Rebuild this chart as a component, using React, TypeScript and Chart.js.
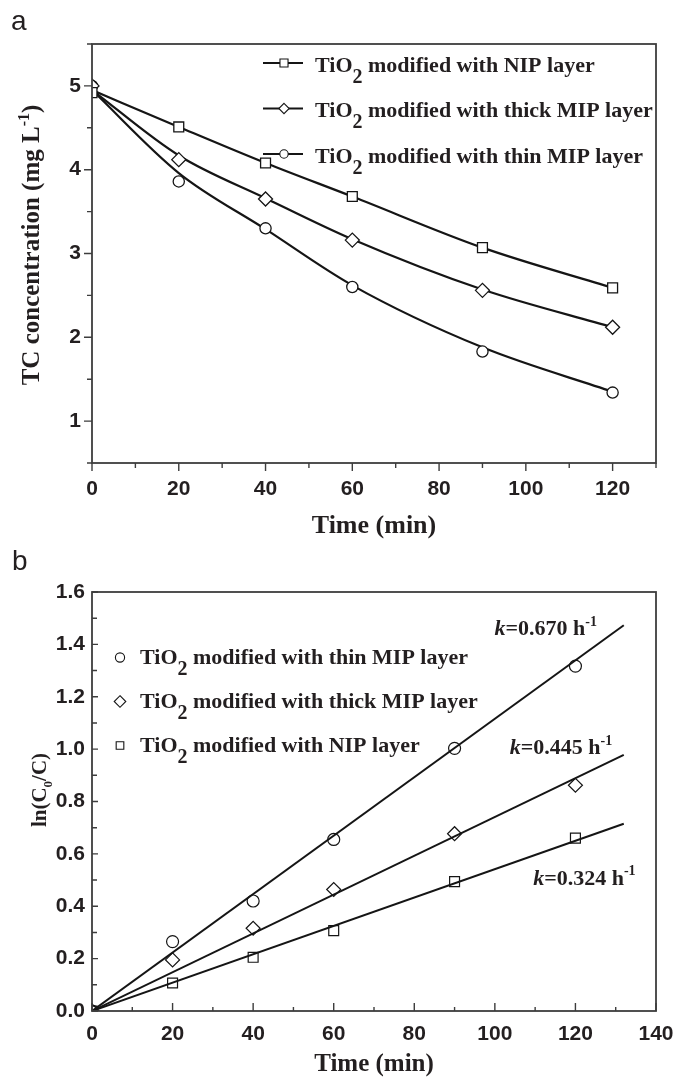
import React, { useEffect, useRef } from 'react';
import { Chart, registerables } from 'chart.js';
Chart.register(...registerables);

// ---------- Data: panel a (TC concentration, mg/L) ----------
const timeA = [0, 20, 40, 60, 90, 120];
const nipA = [4.92, 4.51, 4.08, 3.68, 3.07, 2.59];
const thickA = [5.0, 4.12, 3.65, 3.16, 2.56, 2.12];
const thinA = [5.0, 3.86, 3.30, 2.60, 1.83, 1.34];
// smooth curves as drawn in the figure
const nipCurveA = [4.95, 4.51, 4.08, 3.68, 3.07, 2.59];
const thickCurveA = [4.95, 4.17, 3.66, 3.17, 2.57, 2.12];
const thinCurveA = [4.95, 3.96, 3.29, 2.62, 1.88, 1.35];
const xTicksA = [0, 20, 40, 60, 80, 100, 120];
const xMinorA = [10, 30, 50, 70, 90, 110, 130];
const yTicksA = [1, 2, 3, 4, 5];
const yMinorA = [0.5, 1.5, 2.5, 3.5, 4.5, 5.5];
const legendNamesA = ['NIP layer', 'thick MIP layer', 'thin MIP layer'];

// ---------- Data: panel b (ln(C0/C)) ----------
const timeB = [0, 20, 40, 60, 90, 120];
const thinB = [0, 0.265, 0.42, 0.655, 1.003, 1.317];
const thickB = [0, 0.195, 0.316, 0.464, 0.677, 0.862];
const nipB = [0, 0.107, 0.205, 0.307, 0.494, 0.66];
const fitTimeB = [0, 132];
const thinFitB = [0, 1.473];
const thickFitB = [0, 0.978];
const nipFitB = [0, 0.715];
const xTicksB = [0, 20, 40, 60, 80, 100, 120, 140];
const xMinorB = [10, 30, 50, 70, 90, 110, 130];
const yTicksB = [0, 0.2, 0.4, 0.6, 0.8, 1.0, 1.2, 1.4, 1.6];
const yMinorB = [0.1, 0.3, 0.5, 0.7, 0.9, 1.1, 1.3, 1.5];
const legendNamesB = ['thin MIP layer', 'thick MIP layer', 'NIP layer'];
const kValuesB = ['0.670', '0.445', '0.324'];
const kAnchorTimeB = [99.9, 103.7, 109.5];
const kAnchorValueB = [1.434, 0.98, 0.483];

// ---------- Styles ----------
const SERIF = '"Liberation Serif", "Times New Roman", serif';
const SANS = '"Liberation Sans", Arial, sans-serif';
const INK = '#231f20';
const FRAME = '#3d3d3d';
const LINE = '#151515';

type Part = { t: string; sub?: boolean; sup?: boolean; it?: boolean; small?: boolean };

function partFont(p: Part, size: number) {
  if (p.sub) return `bold ${Math.round(size * (p.small ? 0.62 : 0.9))}px ${SERIF}`;
  if (p.sup) return `bold ${Math.round(size * 0.62)}px ${SERIF}`;
  return `${p.it ? 'italic ' : ''}bold ${size}px ${SERIF}`;
}
function partShift(p: Part, size: number) {
  if (p.sub) return size * (p.small ? 0.28 : 0.5);
  if (p.sup) return -size * 0.42;
  return 0;
}
function measureRich(ctx: CanvasRenderingContext2D, parts: Part[], size: number) {
  let w = 0;
  for (const p of parts) {
    ctx.font = partFont(p, size);
    w += ctx.measureText(p.t).width;
  }
  return w;
}
function drawRich(ctx: CanvasRenderingContext2D, parts: Part[], x: number, y: number, size: number, align: 'left' | 'center') {
  const w = measureRich(ctx, parts, size);
  let cx = align === 'center' ? x - w / 2 : x;
  ctx.textAlign = 'left';
  ctx.textBaseline = 'alphabetic';
  ctx.fillStyle = INK;
  for (const p of parts) {
    ctx.font = partFont(p, size);
    ctx.fillText(p.t, cx, y + partShift(p, size));
    cx += ctx.measureText(p.t).width;
  }
}
function drawMarker(ctx: CanvasRenderingContext2D, style: string, x: number, y: number, r: number, fill: string | null) {
  ctx.beginPath();
  if (style === 'circle') ctx.arc(x, y, r, 0, Math.PI * 2);
  else if (style === 'rect') {
    const s = r * Math.SQRT1_2;
    ctx.rect(x - s, y - s, 2 * s, 2 * s);
  } else {
    ctx.moveTo(x, y - r);
    ctx.lineTo(x + r, y);
    ctx.lineTo(x, y + r);
    ctx.lineTo(x - r, y);
    ctx.closePath();
  }
  if (fill) {
    ctx.fillStyle = fill;
    ctx.fill();
  }
  ctx.stroke();
}

const tiO2 = (rest: string): Part[] => [{ t: 'TiO' }, { t: '2', sub: true }, { t: ' modified with ' + rest }];

function pts(xs: number[], ys: number[]) {
  return xs.map((x, i) => ({ x, y: ys[i] }));
}

const tickFont = { family: SANS, size: 21, weight: 'bold' as const };

// ---------- Panel a ----------
function configA(): any {
  const styles = ['rect', 'rectRot', 'circle'];
  const plugin = {
    id: 'panelA',
    afterDraw(chart: any) {
      const { ctx, chartArea: ca } = chart;
      const x = chart.scales.x;
      const y = chart.scales.y;
      ctx.save();
      ctx.strokeStyle = FRAME;
      ctx.lineWidth = 1.8;
      ctx.strokeRect(ca.left, ca.top, ca.right - ca.left, ca.bottom - ca.top);
      ctx.lineWidth = 1.4;
      ctx.beginPath();
      for (const v of xTicksA) {
        const px = x.getPixelForValue(v);
        ctx.moveTo(px, ca.bottom);
        ctx.lineTo(px, ca.bottom + 8);
      }
      for (const v of xMinorA) {
        const px = x.getPixelForValue(v);
        ctx.moveTo(px, ca.bottom);
        ctx.lineTo(px, ca.bottom + 5);
      }
      for (const v of yTicksA) {
        const py = y.getPixelForValue(v);
        ctx.moveTo(ca.left, py);
        ctx.lineTo(ca.left - 8, py);
      }
      for (const v of yMinorA) {
        const py = y.getPixelForValue(v);
        ctx.moveTo(ca.left, py);
        ctx.lineTo(ca.left - 5, py);
      }
      ctx.stroke();

      // legend
      const legendSizes = [5.7, 5.2, 4.2];
      legendNamesA.forEach((name, i) => {
        const my = 63 + i * 45.5;
        ctx.strokeStyle = LINE;
        ctx.lineWidth = 2;
        ctx.beginPath();
        ctx.moveTo(263, my);
        ctx.lineTo(303, my);
        ctx.stroke();
        ctx.lineWidth = 1.1;
        drawMarker(ctx, styles[i], 284, my, legendSizes[i], '#fff');
        drawRich(ctx, tiO2(name), 315, my + 8.5, 22, 'left');
      });

      // axis titles
      drawRich(ctx, [{ t: 'Time (min)' }], (ca.left + ca.right) / 2, 533, 26, 'center');
      ctx.save();
      ctx.translate(39, 245);
      ctx.rotate(-Math.PI / 2);
      drawRich(ctx, [{ t: 'TC concentration (mg L' }, { t: '-1', sup: true }, { t: ')' }], 0, 0, 25, 'center');
      ctx.restore();

      // panel letter
      ctx.fillStyle = INK;
      ctx.font = `28px ${SANS}`;
      ctx.textAlign = 'left';
      ctx.textBaseline = 'alphabetic';
      ctx.fillText('a', 11, 30);
      ctx.restore();
    },
  };

  const markerDs = (data: number[], style: string, r: number) => ({
    data: pts(timeA, data),
    showLine: false,
    pointStyle: style,
    pointRadius: r,
    pointBorderWidth: 1.3,
    pointBorderColor: LINE,
    pointBackgroundColor: '#fff',
  });
  const curveDs = (data: number[]) => ({
    data: pts(timeA, data),
    showLine: true,
    borderColor: LINE,
    borderWidth: 2.2,
    pointRadius: 0,
    tension: 0.4,
    cubicInterpolationMode: 'monotone',
    fill: false,
  });

  return {
    type: 'scatter',
    data: {
      datasets: [
        markerDs(nipA, 'rect', 7),
        markerDs(thickA, 'rectRot', 7),
        markerDs(thinA, 'circle', 5.6),
        curveDs(nipCurveA),
        curveDs(thickCurveA),
        curveDs(thinCurveA),
      ],
    },
    options: {
      responsive: false,
      animation: false,
      devicePixelRatio: 1,
      events: [],
      layout: { padding: { left: 0, right: 19, top: 44, bottom: 0 } },
      plugins: { legend: { display: false }, tooltip: { enabled: false }, title: { display: false } },
      scales: {
        x: {
          type: 'linear',
          min: 0,
          max: 130,
          afterBuildTicks: (s: any) => {
            s.ticks = xTicksA.map((v) => ({ value: v }));
          },
          afterFit: (s: any) => {
            s.height = 77;
            s.paddingLeft = 0;
            s.paddingRight = 0;
          },
          grid: { display: false, drawTicks: false },
          border: { display: false },
          ticks: { font: tickFont, color: INK, padding: 14, maxRotation: 0, autoSkip: false, callback: (v: any) => String(v) },
        },
        y: {
          type: 'linear',
          min: 0.5,
          max: 5.5,
          afterBuildTicks: (s: any) => {
            s.ticks = yTicksA.map((v) => ({ value: v }));
          },
          afterFit: (s: any) => {
            s.width = 92;
            s.paddingTop = 0;
            s.paddingBottom = 0;
          },
          grid: { display: false, drawTicks: false },
          border: { display: false },
          ticks: { font: tickFont, color: INK, padding: 11, autoSkip: false, callback: (v: any) => String(v) },
        },
      },
    },
    plugins: [plugin],
  };
}

// ---------- Panel b ----------
function configB(): any {
  const styles = ['circle', 'rectRot', 'rect'];
  const plugin = {
    id: 'panelB',
    afterDraw(chart: any) {
      const { ctx, chartArea: ca } = chart;
      const x = chart.scales.x;
      const y = chart.scales.y;
      ctx.save();
      ctx.strokeStyle = FRAME;
      ctx.lineWidth = 1.8;
      ctx.strokeRect(ca.left, ca.top, ca.right - ca.left, ca.bottom - ca.top);
      ctx.lineWidth = 1.4;
      ctx.beginPath();
      for (const v of xTicksB) {
        const px = x.getPixelForValue(v);
        ctx.moveTo(px, ca.bottom);
        ctx.lineTo(px, ca.bottom - 8);
      }
      for (const v of xMinorB) {
        const px = x.getPixelForValue(v);
        ctx.moveTo(px, ca.bottom);
        ctx.lineTo(px, ca.bottom - 4);
      }
      for (const v of yTicksB) {
        const py = y.getPixelForValue(v);
        ctx.moveTo(ca.left, py);
        ctx.lineTo(ca.left + 6, py);
      }
      for (const v of yMinorB) {
        const py = y.getPixelForValue(v);
        ctx.moveTo(ca.left, py);
        ctx.lineTo(ca.left + 5, py);
      }
      ctx.stroke();

      // legend
      const legendSizes = [4.6, 5.8, 5.4];
      legendNamesB.forEach((name, i) => {
        const my = 117.5 + i * 44;
        ctx.strokeStyle = LINE;
        ctx.lineWidth = 1.1;
        drawMarker(ctx, styles[i], 120, my, legendSizes[i], null);
        drawRich(ctx, tiO2(name), 140, my + 6.5, 22, 'left');
      });

      // rate-constant labels
      kValuesB.forEach((k, i) => {
        const px = x.getPixelForValue(kAnchorTimeB[i]);
        const py = y.getPixelForValue(kAnchorValueB[i]);
        drawRich(ctx, [{ t: 'k', it: true }, { t: '=' + k + ' h' }, { t: '-1', sup: true }], px, py, 22, 'left');
      });

      // axis titles
      drawRich(ctx, [{ t: 'Time (min)' }], (ca.left + ca.right) / 2, 531, 25, 'center');
      ctx.save();
      ctx.translate(46, 250);
      ctx.rotate(-Math.PI / 2);
      drawRich(ctx, [{ t: 'ln(C' }, { t: '0', sub: true, small: true }, { t: '/C)' }], 0, 0, 21, 'center');
      ctx.restore();

      ctx.fillStyle = INK;
      ctx.font = `28px ${SANS}`;
      ctx.textAlign = 'left';
      ctx.textBaseline = 'alphabetic';
      ctx.fillText('b', 12, 30);
      ctx.restore();
    },
  };

  const markerDs = (data: number[], style: string, r: number) => ({
    data: pts(timeB, data),
    showLine: false,
    pointStyle: style,
    pointRadius: r,
    pointBorderWidth: 1.2,
    pointBorderColor: LINE,
    pointBackgroundColor: 'rgba(0,0,0,0)',
    clip: 0,
  });
  const fitDs = (data: number[]) => ({
    data: pts(fitTimeB, data),
    showLine: true,
    borderColor: LINE,
    borderWidth: 2,
    pointRadius: 0,
    tension: 0,
    fill: false,
    clip: 0,
  });

  return {
    type: 'scatter',
    data: {
      datasets: [
        markerDs(thinB, 'circle', 6),
        markerDs(thickB, 'rectRot', 7),
        markerDs(nipB, 'rect', 7),
        fitDs(thinFitB),
        fitDs(thickFitB),
        fitDs(nipFitB),
      ],
    },
    options: {
      responsive: false,
      animation: false,
      devicePixelRatio: 1,
      events: [],
      layout: { padding: { left: 0, right: 19, top: 52, bottom: 0 } },
      plugins: { legend: { display: false }, tooltip: { enabled: false }, title: { display: false } },
      scales: {
        x: {
          type: 'linear',
          min: 0,
          max: 140,
          afterBuildTicks: (s: any) => {
            s.ticks = xTicksB.map((v) => ({ value: v }));
          },
          afterFit: (s: any) => {
            s.height = 67;
            s.paddingLeft = 0;
            s.paddingRight = 0;
          },
          grid: { display: false, drawTicks: false },
          border: { display: false },
          ticks: { font: tickFont, color: INK, padding: 11, maxRotation: 0, autoSkip: false, callback: (v: any) => String(v) },
        },
        y: {
          type: 'linear',
          min: 0,
          max: 1.6,
          afterBuildTicks: (s: any) => {
            s.ticks = yTicksB.map((v) => ({ value: v }));
          },
          afterFit: (s: any) => {
            s.width = 92;
            s.paddingTop = 0;
            s.paddingBottom = 0;
          },
          grid: { display: false, drawTicks: false },
          border: { display: false },
          ticks: { font: tickFont, color: INK, padding: 7, autoSkip: false, callback: (v: any) => Number(v).toFixed(1) },
        },
      },
    },
    plugins: [plugin],
  };
}

export default function App() {
  const refA = useRef<HTMLCanvasElement>(null);
  const refB = useRef<HTMLCanvasElement>(null);
  useEffect(() => {
    const a = new Chart(refA.current as HTMLCanvasElement, configA());
    const b = new Chart(refB.current as HTMLCanvasElement, configB());
    return () => {
      a.destroy();
      b.destroy();
    };
  }, []);
  return (
    <div style={{ position: 'absolute', left: 0, top: 0, width: 675, height: 1078, background: '#fff' }}>
      <canvas ref={refA} width={675} height={540} style={{ display: 'block', width: 675, height: 540 }} />
      <canvas ref={refB} width={675} height={538} style={{ display: 'block', width: 675, height: 538 }} />
    </div>
  );
}
